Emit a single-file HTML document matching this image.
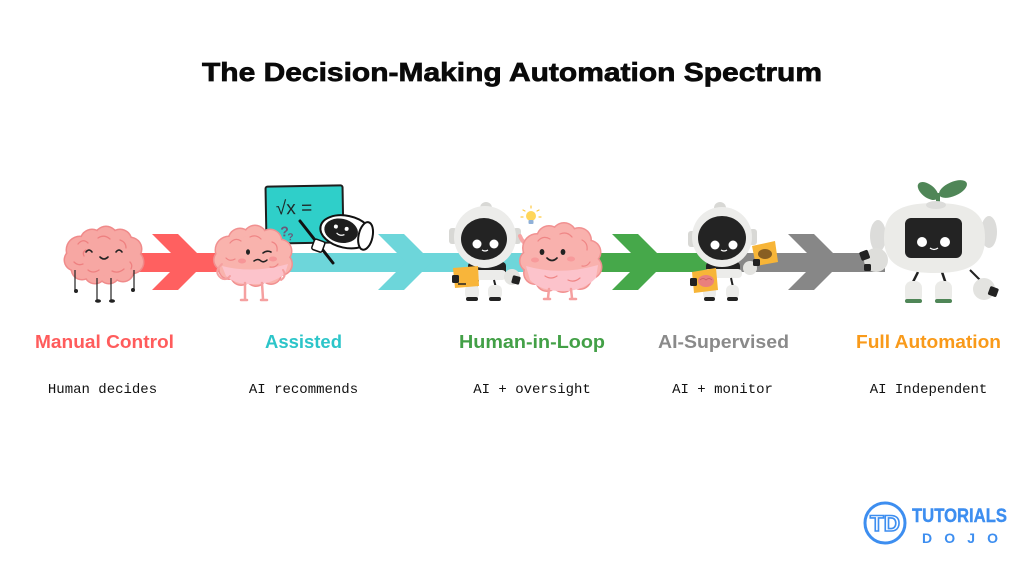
<!DOCTYPE html>
<html><head><meta charset="utf-8"><style>
html,body{margin:0;padding:0;background:#fff;}
svg{display:block;}
</style></head><body>
<svg width="1024" height="576" viewBox="0 0 1024 576" xmlns="http://www.w3.org/2000/svg">
<rect width="1024" height="576" fill="#fff"/>
<!-- Title -->
<text x="512" y="81" text-anchor="middle" font-family="Liberation Sans, sans-serif" font-weight="bold" font-size="26" fill="#0a0a0a" stroke="#0a0a0a" stroke-width="0.7" textLength="620" lengthAdjust="spacingAndGlyphs">The Decision-Making Automation Spectrum</text>

<!-- Bands -->
<rect x="130" y="253" width="110" height="19" fill="#ff6060"/>
<rect x="240" y="253" width="320" height="19" fill="#6dd6da"/>
<rect x="560" y="253" width="160" height="19" fill="#46a84a"/>
<rect x="720" y="253" width="165" height="19" fill="#878787"/>
<!-- Chevrons -->
<polygon points="152,234 178,234 206,262 178,290 152,290 180,262" fill="#ff6060"/>
<polygon points="378,234 404,234 432,262 404,290 378,290 406,262" fill="#6dd6da"/>
<polygon points="612,234 638,234 666,262 638,290 612,290 640,262" fill="#46a84a"/>
<polygon points="788,234 814,234 842,262 814,290 788,290 816,262" fill="#878787"/>

<!-- Brain 1 -->
<g>
  <g fill="#f08a8a">
    <circle cx="80" cy="250" r="14.5"/><circle cx="92" cy="241" r="12.5"/><circle cx="106" cy="238" r="12.5"/><circle cx="120" cy="241" r="12.5"/><circle cx="130" cy="249" r="12.5"/><circle cx="132" cy="262" r="12.5"/><circle cx="123" cy="271" r="11.5"/><circle cx="109" cy="273" r="11.5"/><circle cx="95" cy="273" r="11.5"/><circle cx="82" cy="269" r="11.5"/><circle cx="75" cy="260" r="11.5"/>
  </g>
  <g fill="#f7a7a3">
    <circle cx="80" cy="250" r="13"/><circle cx="92" cy="241" r="11"/><circle cx="106" cy="238" r="11"/><circle cx="120" cy="241" r="11"/><circle cx="130" cy="249" r="11"/><circle cx="132" cy="262" r="11"/><circle cx="123" cy="271" r="10"/><circle cx="109" cy="273" r="10"/><circle cx="95" cy="273" r="10"/><circle cx="82" cy="269" r="10"/><circle cx="75" cy="260" r="10"/><circle cx="104" cy="256" r="20"/>
  </g>
  <g fill="none" stroke="#ee8080" stroke-width="1.3" stroke-linecap="round">
    <path d="M78 244 q5 -6 10 -1"/><path d="M98 238 q6 -4 12 1"/><path d="M120 240 q6 2 6 8"/><path d="M74 262 q4 4 9 2"/><path d="M88 270 q5 4 11 0"/><path d="M112 271 q6 3 12 -2"/><path d="M130 262 q3 3 1 7"/><path d="M84 256 q-2 -4 2 -6"/>
  </g>
  <g fill="none" stroke="#222" stroke-width="1.6" stroke-linecap="round">
    <path d="M86 252 q3 -4 6 0"/><path d="M116 252 q3 -4 6 0"/><path d="M100 257 q4 4 8 0"/>
  </g>
  <g stroke="#222" stroke-width="1.2">
    <line x1="75" y1="270" x2="75" y2="290"/><line x1="134" y1="270" x2="134" y2="289"/>
    <line x1="97" y1="278" x2="97" y2="300"/><line x1="111" y1="278" x2="111" y2="300"/>
  </g>
  <g fill="#222"><circle cx="76" cy="291" r="2"/><circle cx="133" cy="290" r="2"/><ellipse cx="98" cy="301" rx="3" ry="1.8"/><ellipse cx="112" cy="301" rx="3" ry="1.8"/></g>
</g>

<!-- Chalkboard -->
<g transform="rotate(-1 304 214)">
  <rect x="266" y="186" width="77" height="57" rx="2" fill="#2fcfc9" stroke="#1e1e1e" stroke-width="2"/>
  <text x="276" y="214" font-family="Liberation Sans, sans-serif" font-size="19" fill="#1e2a2a">√x =</text>
  <text x="280" y="236" font-family="Liberation Sans, sans-serif" font-size="14" font-weight="bold" fill="#6a5878">?</text>
  <text x="287" y="240" font-family="Liberation Sans, sans-serif" font-size="10" font-weight="bold" fill="#6a5878">?</text>
</g>
<line x1="300" y1="221" x2="333" y2="263" stroke="#111" stroke-width="3" stroke-linecap="round"/>
<rect x="313" y="240" width="11" height="11" rx="2" fill="#fff" stroke="#111" stroke-width="1.5" transform="rotate(20 318 245)"/>
<!-- helmet robot -->
<g transform="rotate(12 347 232)">
  <ellipse cx="346" cy="232" rx="26" ry="16" fill="#fff" stroke="#111" stroke-width="2"/>
  <ellipse cx="341" cy="232" rx="17" ry="12" fill="#1e1e1e"/>
  <ellipse cx="366" cy="232" rx="7" ry="14" fill="#fff" stroke="#111" stroke-width="2"/>
  <circle cx="335" cy="229" r="2" fill="#fff"/><circle cx="346" cy="229" r="2" fill="#fff"/>
  <path d="M337 235 q4 3 8 0" stroke="#fff" stroke-width="1.2" fill="none"/>
</g>

<!-- Brain 2 -->
<g>
  <g fill="#f19090">
    <circle cx="229" cy="250" r="14.5"/><circle cx="240" cy="240" r="12.5"/><circle cx="255" cy="237" r="12.5"/><circle cx="270" cy="241" r="12.5"/><circle cx="280" cy="251" r="12.5"/><circle cx="281" cy="264" r="12"/><circle cx="271" cy="274" r="11"/><circle cx="256" cy="276" r="11"/><circle cx="241" cy="275" r="11"/><circle cx="229" cy="269" r="11"/><circle cx="224" cy="260" r="11"/>
  </g>
  <g fill="#f9b3ad">
    <circle cx="229" cy="250" r="13"/><circle cx="240" cy="240" r="11"/><circle cx="255" cy="237" r="11"/><circle cx="270" cy="241" r="11"/><circle cx="280" cy="251" r="11"/><circle cx="281" cy="264" r="10.5"/><circle cx="271" cy="274" r="9.5"/><circle cx="256" cy="276" r="9.5"/><circle cx="241" cy="275" r="9.5"/><circle cx="229" cy="269" r="9.5"/><circle cx="224" cy="260" r="9.5"/><circle cx="253" cy="256" r="21"/>
  </g>
  <path d="M222 266 Q253 274 288 264 L285 274 Q270 285 253 284 Q236 285 226 276 Z" fill="#fcc3cb"/>
  <g fill="none" stroke="#ef8585" stroke-width="1.2" stroke-linecap="round">
    <path d="M230 243 q5 -6 11 -2"/><path d="M250 237 q6 -3 11 2"/><path d="M272 242 q6 2 5 9"/><path d="M226 258 q4 4 9 1"/><path d="M278 264 q-3 4 -8 3"/>
  </g>
  <ellipse cx="248" cy="252" rx="2" ry="2.8" fill="#222"/>
  <path d="M263 253 q4 -3 8 -1" stroke="#222" stroke-width="1.6" fill="none" stroke-linecap="round"/>
  <path d="M254 261 q4 -3 7 0 q3 2 6 -1" stroke="#222" stroke-width="1.5" fill="none" stroke-linecap="round"/>
  <ellipse cx="242" cy="261" rx="4" ry="2.5" fill="#f78a8f" opacity="0.7"/><ellipse cx="273" cy="259" rx="4" ry="2.5" fill="#f78a8f" opacity="0.7"/>
  <path d="M222 264 q-9 8 -1 14 q5 3 9 -2" stroke="#f5a0a0" stroke-width="2" fill="none" stroke-linecap="round"/>
  <path d="M283 270 q4 6 -2 10" stroke="#f5a0a0" stroke-width="2" fill="none" stroke-linecap="round"/>
  <g stroke="#f5a0a0" stroke-width="2.5" stroke-linecap="round">
    <line x1="245" y1="283" x2="245" y2="299"/><line x1="262" y1="283" x2="263" y2="299"/>
    <line x1="241" y1="300" x2="247" y2="300"/><line x1="261" y1="300" x2="267" y2="300"/>
  </g>
</g>

<!-- Robot 3 (Human-in-Loop) -->
<g>
  <circle cx="486" cy="208" r="6" fill="#d8d8d5"/>
  <rect x="449" y="228" width="8" height="16" rx="3" fill="#d8d8d5"/>
  <rect x="513" y="228" width="8" height="16" rx="3" fill="#d8d8d5"/>
  <rect x="468" y="262" width="38" height="14" rx="4" fill="#222"/>
  <circle cx="485" cy="237" r="31" fill="#ececea"/>
  <ellipse cx="484" cy="239" rx="23" ry="21" fill="#232323"/>
  <circle cx="477" cy="244" r="4.5" fill="#fff"/><circle cx="494" cy="244" r="4.5" fill="#fff"/>
  <path d="M482 250 q3 2 6 0" stroke="#fff" stroke-width="1.2" fill="none"/>
  <rect x="466" y="270" width="40" height="10" rx="4" fill="#ececea"/>
  <line x1="478" y1="280" x2="476" y2="288" stroke="#222" stroke-width="2"/>
  <line x1="494" y1="280" x2="496" y2="288" stroke="#222" stroke-width="2"/>
  <rect x="465" y="285" width="14" height="14" rx="5" fill="#ececea"/>
  <rect x="488" y="285" width="14" height="14" rx="5" fill="#ececea"/>
  <rect x="466" y="297" width="12" height="4" rx="2" fill="#222"/>
  <rect x="489" y="297" width="12" height="4" rx="2" fill="#222"/>
  <circle cx="512" cy="277" r="8" fill="#e4e4e1"/>
  <rect x="512" y="276" width="8" height="8" rx="1.5" fill="#222" transform="rotate(15 516 280)"/>
  <polygon points="453,268 478,266 479,286 455,288" fill="#f8b53a"/>
  <rect x="452" y="275" width="7" height="8" rx="1.5" fill="#222"/>
  <line x1="458" y1="284" x2="466" y2="284" stroke="#222" stroke-width="1.5"/>
</g>

<!-- Bulb -->
<g>
  <circle cx="531" cy="216" r="5" fill="#ffd65a"/>
  <rect x="528.5" y="220" width="5" height="4" rx="1" fill="#8fb0d8"/>
  <g stroke="#ffc940" stroke-width="1.2" stroke-linecap="round">
    <line x1="531" y1="206" x2="531" y2="208"/><line x1="523" y1="210" x2="525" y2="211"/><line x1="539" y1="210" x2="537" y2="211"/><line x1="521" y1="217" x2="523" y2="217"/><line x1="541" y1="217" x2="539" y2="217"/>
  </g>
</g>

<!-- Brain 3 -->
<g>
  <path d="M530 248 q-8 -6 -10 -12" stroke="#f7a5a5" stroke-width="4" fill="none" stroke-linecap="round"/>
  <g fill="#f19191">
    <circle cx="537" cy="248" r="15"/><circle cx="549" cy="238" r="13"/><circle cx="564" cy="235" r="13"/><circle cx="579" cy="240" r="13"/><circle cx="589" cy="252" r="12.5"/><circle cx="590" cy="267" r="12.5"/><circle cx="580" cy="278" r="12"/><circle cx="563" cy="281" r="12"/><circle cx="547" cy="280" r="12"/><circle cx="535" cy="273" r="12"/><circle cx="531" cy="261" r="12"/>
  </g>
  <g fill="#f9b1ad">
    <circle cx="537" cy="248" r="13.5"/><circle cx="549" cy="238" r="11.5"/><circle cx="564" cy="235" r="11.5"/><circle cx="579" cy="240" r="11.5"/><circle cx="589" cy="252" r="11"/><circle cx="590" cy="267" r="11"/><circle cx="580" cy="278" r="10.5"/><circle cx="563" cy="281" r="10.5"/><circle cx="547" cy="280" r="10.5"/><circle cx="535" cy="273" r="10.5"/><circle cx="531" cy="261" r="10.5"/><circle cx="560" cy="259" r="24"/>
  </g>
  <path d="M526 266 Q560 276 598 265 L596 278 Q582 292 562 291 Q540 291 530 280 Z" fill="#fcc3cb"/>
  <g fill="none" stroke="#ef8585" stroke-width="1.2" stroke-linecap="round">
    <path d="M538 241 q5 -6 12 -2"/><path d="M560 234 q7 -3 12 3"/><path d="M582 240 q6 3 5 10"/><path d="M590 262 q-3 5 -8 4"/><path d="M545 276 q6 4 12 0"/><path d="M568 280 q6 3 12 -2"/>
  </g>
  <ellipse cx="542" cy="252" rx="2.4" ry="3" fill="#222"/><ellipse cx="563" cy="252" rx="2.4" ry="3" fill="#222"/>
  <path d="M547 258 q5 5 10 0" stroke="#222" stroke-width="1.7" fill="none" stroke-linecap="round"/>
  <ellipse cx="535" cy="260" rx="4" ry="2.5" fill="#f78a8f" opacity="0.6"/><ellipse cx="571" cy="259" rx="4" ry="2.5" fill="#f78a8f" opacity="0.6"/>
  <g stroke="#f5a0a0" stroke-width="2.5" stroke-linecap="round">
    <line x1="549" y1="289" x2="548" y2="298"/><line x1="571" y1="289" x2="572" y2="298"/>
    <line x1="544" y1="299" x2="550" y2="299"/><line x1="570" y1="299" x2="576" y2="299"/>
  </g>
</g>

<!-- Robot 4 (AI-Supervised) -->
<g>
  <circle cx="720" cy="208" r="6" fill="#d8d8d5"/>
  <rect x="688" y="231" width="8" height="16" rx="3" fill="#d8d8d5"/>
  <rect x="749" y="229" width="8" height="16" rx="3" fill="#d8d8d5"/>
  <rect x="706" y="262" width="34" height="13" rx="4" fill="#222"/>
  <circle cx="722" cy="237" r="30" fill="#ececea"/>
  <ellipse cx="722" cy="238" rx="24" ry="22" fill="#232323"/>
  <circle cx="715" cy="245" r="4.5" fill="#fff"/><circle cx="733" cy="245" r="4.5" fill="#fff"/>
  <path d="M721 250 q3 2 6 0" stroke="#fff" stroke-width="1.2" fill="none"/>
  <rect x="704" y="269" width="38" height="9" rx="4" fill="#ececea"/>
  <line x1="715" y1="278" x2="713" y2="287" stroke="#222" stroke-width="2"/>
  <line x1="731" y1="278" x2="733" y2="287" stroke="#222" stroke-width="2"/>
  <rect x="703" y="285" width="13" height="14" rx="5" fill="#ececea"/>
  <rect x="726" y="285" width="13" height="14" rx="5" fill="#ececea"/>
  <rect x="704" y="297" width="11" height="4" rx="2" fill="#222"/>
  <rect x="727" y="297" width="11" height="4" rx="2" fill="#222"/>
  <circle cx="750" cy="268" r="7" fill="#e4e4e1"/>
  <polygon points="752,246 775,241 778,262 756,266" fill="#f7b538"/>
  <ellipse cx="765" cy="254" rx="7" ry="5" fill="#6b4a1e" opacity="0.8"/>
  <rect x="753" y="259" width="7" height="7" rx="1.5" fill="#222"/>
  <polygon points="692,272 716,268 718,290 694,293" fill="#f7b538"/>
  <ellipse cx="706" cy="281" rx="8" ry="6" fill="#e9807d"/>
  <path d="M700 280 q3 -3 6 0 q3 -3 6 0" stroke="#c75c5c" stroke-width="0.8" fill="none"/>
  <rect x="690" y="278" width="7" height="8" rx="1.5" fill="#222"/>
</g>

<!-- Robot 5 (Full Automation) -->
<g>
  <ellipse cx="928" cy="191" rx="12" ry="6.5" fill="#4f8657" transform="rotate(38 928 191)"/>
  <ellipse cx="953" cy="189" rx="15" ry="7" fill="#4f8657" transform="rotate(-24 953 189)"/>
  <rect x="936" y="193" width="4" height="13" rx="1" fill="#4f8657"/>
  <ellipse cx="878" cy="236" rx="8" ry="16" fill="#dcdcda"/>
  <ellipse cx="989" cy="232" rx="8" ry="16" fill="#dcdcda"/>
  <line x1="918" y1="272" x2="912" y2="284" stroke="#222" stroke-width="2.5"/>
  <line x1="942" y1="272" x2="946" y2="284" stroke="#222" stroke-width="2.5"/>
  <path d="M884 238 C884 212 900 203 935 203 C970 203 985 212 985 238 C985 262 972 273 935 273 C898 273 884 262 884 238 Z" fill="#ebebe8"/>
  <ellipse cx="936" cy="205" rx="10" ry="4" fill="#dcdcda"/>
  <rect x="905" y="218" width="57" height="40" rx="6" fill="#232323"/>
  <circle cx="922" cy="242" r="5" fill="#fff"/><circle cx="945" cy="242" r="5" fill="#fff"/>
  <path d="M930 248 q4 3 8 0" stroke="#fff" stroke-width="1.3" fill="none"/>
  <circle cx="876" cy="260" r="12" fill="#dededb"/>
  <rect x="860" y="251" width="9" height="9" rx="1.5" fill="#222" transform="rotate(-20 864 255)"/>
  <rect x="864" y="264" width="7" height="7" rx="1.5" fill="#222"/>
  <rect x="905" y="281" width="17" height="22" rx="7" fill="#ebebe8"/>
  <rect x="935" y="281" width="17" height="22" rx="7" fill="#ebebe8"/>
  <rect x="905" y="299" width="17" height="4" rx="2" fill="#4f8657"/>
  <rect x="935" y="299" width="17" height="4" rx="2" fill="#4f8657"/>
  <line x1="970" y1="270" x2="982" y2="282" stroke="#222" stroke-width="2"/>
  <circle cx="984" cy="289" r="11" fill="#e3e3e0"/>
  <rect x="989" y="287" width="9" height="9" rx="1.5" fill="#222" transform="rotate(20 993 291)"/>
</g>

<!-- Labels -->
<g font-family="Liberation Sans, sans-serif" font-weight="bold" font-size="18" text-anchor="middle">
  <text x="104.5" y="348" fill="#ff5c5c" textLength="139" lengthAdjust="spacingAndGlyphs">Manual Control</text>
  <text x="303.5" y="348" fill="#2cc5c9" textLength="77" lengthAdjust="spacingAndGlyphs">Assisted</text>
  <text x="532" y="348" fill="#43a047" textLength="146" lengthAdjust="spacingAndGlyphs">Human-in-Loop</text>
  <text x="723.5" y="348" fill="#8a8a8a" textLength="131" lengthAdjust="spacingAndGlyphs">AI-Supervised</text>
  <text x="928.5" y="348" fill="#f99a1a" textLength="145" lengthAdjust="spacingAndGlyphs">Full Automation</text>
</g>
<g font-family="Liberation Mono, monospace" font-size="14" text-anchor="middle" fill="#111">
  <text x="102.5" y="393">Human decides</text>
  <text x="303.5" y="393">AI recommends</text>
  <text x="532" y="393">AI + oversight</text>
  <text x="722.5" y="393">AI + monitor</text>
  <text x="928.5" y="393">AI Independent</text>
</g>

<!-- Logo -->
<g>
  <circle cx="885" cy="523" r="20" fill="none" stroke="#3d8ef0" stroke-width="3"/>
  <text x="885" y="531" text-anchor="middle" font-family="Liberation Sans, sans-serif" font-weight="bold" font-size="22" fill="#fff" stroke="#3d8ef0" stroke-width="1.6" textLength="30" lengthAdjust="spacingAndGlyphs">TD</text>
  <text x="912" y="522" font-family="Liberation Sans, sans-serif" font-weight="bold" font-size="19" fill="#3d8ef0" stroke="#3d8ef0" stroke-width="0.4" textLength="95" lengthAdjust="spacingAndGlyphs">TUTORIALS</text>
  <text x="922" y="543" font-family="Liberation Sans, sans-serif" font-weight="bold" font-size="14" fill="#3d8ef0" textLength="76" lengthAdjust="spacing">DOJO</text>
</g>
</svg>
</body></html>
